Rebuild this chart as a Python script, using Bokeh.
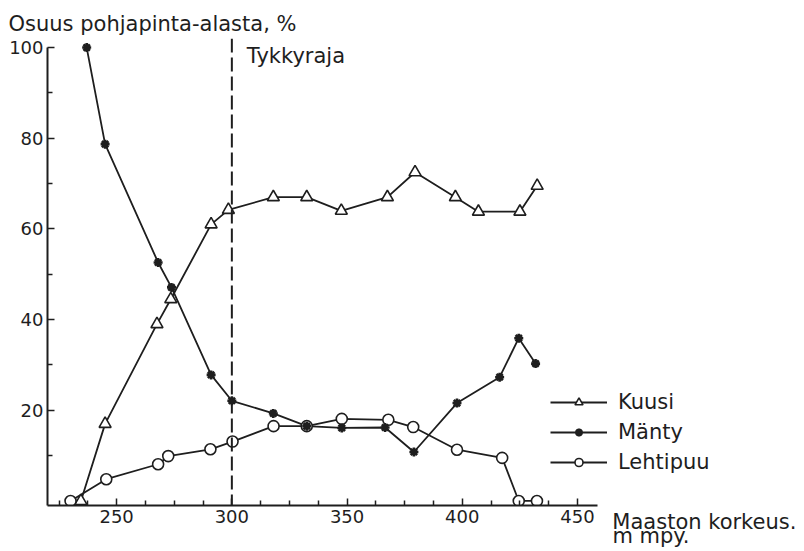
from bokeh.plotting import figure
from bokeh.models import Range1d, FixedTicker, Span, Label, Legend, LegendItem
from bokeh.embed import file_html
from bokeh.resources import INLINE

# ---- data ----
kuusi_x = [234.5, 245, 267.5, 273.5, 291, 298.5, 318, 332.5, 347.5, 367.5, 379.5, 397, 407, 425, 432.5]
kuusi_y = [0, 17, 39, 44.5, 61, 64.2, 67, 67, 64, 67, 72.5, 67, 63.8, 63.8, 69.5]

manty_x = [237, 245, 268, 273.8, 291, 300, 318, 332.5, 347.7, 366.5, 379, 397.7, 416.2, 424.5, 431.8]
manty_y = [100, 78.7, 52.6, 47.1, 27.8, 22.1, 19.3, 16.5, 16.1, 16.2, 10.8, 21.6, 27.3, 35.9, 30.3]

lehti_x = [230, 245.5, 268, 272.4, 290.7, 300.3, 318.1, 332.5, 347.7, 367.9, 378.7, 397.7, 417.3, 424.5, 432.4]
lehti_y = [0, 4.8, 8.1, 9.9, 11.4, 13.1, 16.5, 16.5, 18.1, 17.9, 16.3, 11.3, 9.5, 0, 0]

series_names = ["Kuusi", "Mänty", "Lehtipuu"]
x_ticks = [250, 300, 350, 400, 450]
x_minor = [225, 237.5, 262.5, 275, 287.5, 312.5, 325, 337.5, 362.5, 375, 387.5, 412.5, 425, 437.5]
y_ticks = [20, 40, 60, 80, 100]
y_minor = [10, 30, 50, 70, 90]
tykkyraja_x = 300
x_axis_start, x_axis_end = 220, 458.7
y_title = "Osuus pohjapinta-alasta, %"
# the axis label box is centred on the frame's end and its lines are centred;
# trailing no-break spaces give both lines the same width so they start
# together just right of "450"
x_title_lines = ["Maaston korkeus." + "\u00a0" * 30, "m mpy." + "\u00a0" * 46]

FONT = "DejaVu Sans"
INK = "#1e1e1e"

p = figure(width=804, height=551, output_backend="svg", toolbar_location=None,
           x_range=Range1d(220, 548.5), y_range=Range1d(-1, 102),
           min_border_left=47, min_border_right=0, min_border_top=38, min_border_bottom=38)
p.outline_line_color = None
p.grid.visible = False
p.background_fill_color = "white"
p.border_fill_color = "white"

p.title.text = y_title
p.title.align = "left"
p.title.offset = -39
p.title.standoff = 6
p.title.text_font = FONT
p.title.text_font_size = "21px"
p.title.text_font_style = "normal"
p.title.text_color = INK

for ax in (p.xaxis[0], p.yaxis[0]):
    ax.axis_line_width = 2
    ax.axis_line_color = INK
    ax.major_tick_line_color = INK
    ax.minor_tick_line_color = INK
    ax.major_tick_line_width = 1.5
    ax.minor_tick_line_width = 1.5
    ax.major_tick_in = 7
    ax.major_tick_out = 0
    ax.minor_tick_in = 5
    ax.minor_tick_out = 0
    ax.major_label_text_font = FONT
    ax.major_label_text_font_size = "18px"
    ax.major_label_text_color = INK
    ax.major_label_standoff = 4

xa = p.xaxis[0]
xa.ticker = FixedTicker(ticks=x_ticks, minor_ticks=x_minor)
xa.bounds = (x_axis_start, x_axis_end)
xa.axis_label = "\n".join(x_title_lines)
xa.axis_label_align = "end"
xa.axis_label_standoff = -16
xa.axis_label_text_font = FONT
xa.axis_label_text_font_size = "21px"
xa.axis_label_text_font_style = "normal"
xa.axis_label_text_color = INK
xa.axis_label_text_line_height = 0.62

p.yaxis[0].ticker = FixedTicker(ticks=y_ticks, minor_ticks=y_minor)
p.yaxis[0].bounds = (-1, 100)

# Tykkyraja dashed line
p.add_layout(Span(location=tykkyraja_x, dimension="height", line_color=INK,
                  line_width=2, line_dash="14 5"))

lw = 1.8
l1 = p.line(kuusi_x, kuusi_y, line_color=INK, line_width=lw)
l2 = p.line(manty_x, manty_y, line_color=INK, line_width=lw)
l3 = p.line(lehti_x, lehti_y, line_color=INK, line_width=lw)

m1 = p.scatter(kuusi_x, kuusi_y, marker="triangle", size=12, fill_color="white",
               line_color=INK, line_width=1.6)
m3 = p.scatter(lehti_x, lehti_y, marker="circle", size=11, fill_color="white",
               line_color=INK, line_width=1.6)
m2 = p.scatter(manty_x, manty_y, marker="asterisk", size=9, line_color=INK, line_width=2.6)

legend = Legend(items=[LegendItem(label=series_names[0], renderers=[l1, m1]),
                       LegendItem(label=series_names[1], renderers=[l2, m2]),
                       LegendItem(label=series_names[2], renderers=[l3, m3])],
                location=(503, 31), orientation="vertical",
                glyph_width=57, glyph_height=20, label_height=20, spacing=6,
                label_standoff=11, padding=0, margin=0,
                border_line_color=None, background_fill_alpha=0,
                label_text_font=FONT, label_text_font_size="21px", label_text_color=INK)
p.add_layout(legend)

p.add_layout(Label(x=tykkyraja_x, y=100, x_offset=15, y_offset=-8,
                   text="Tykkyraja", text_font=FONT,
                   text_font_size="21px", text_color=INK, text_baseline="alphabetic"))

open("out.html", "w").write(file_html(p, INLINE))
